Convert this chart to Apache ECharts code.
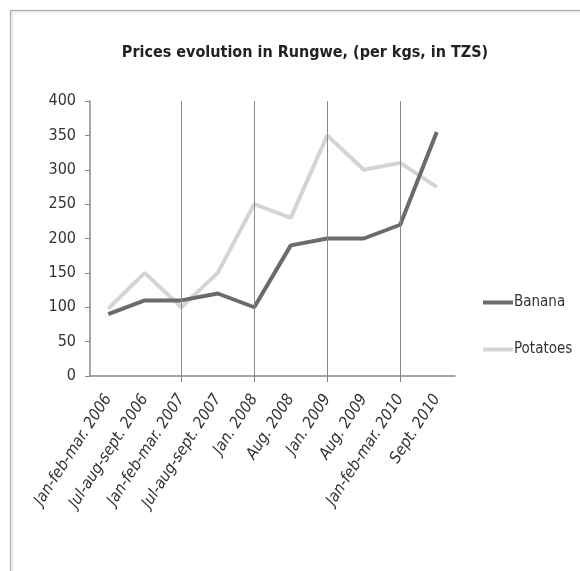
<!DOCTYPE html>
<html>
<head>
<meta charset="utf-8">
<script src="https://cdn.jsdelivr.net/npm/echarts@6/dist/echarts.min.js"></script>
<style>
  html,body{margin:0;padding:0;background:#fff;}
  #main{width:580px;height:571px;}
</style>
</head>
<body>
<div id="main"></div>
<script>
// 数据
var periods = ['Jan-feb-mar. 2006', 'Jul-aug-sept. 2006', 'Jan-feb-mar. 2007', 'Jul-aug-sept. 2007',
  'Jan. 2008', 'Aug. 2008', 'Jan. 2009', 'Aug. 2009', 'Jan-feb-mar. 2010', 'Sept. 2010'];
var banana = [90, 110, 110, 120, 100, 190, 200, 200, 220, 355];
var potatoes = [98, 150, 100, 150, 250, 230, 350, 300, 310, 275];
var gridIdx = [2, 4, 6, 8];

var font = '"DejaVu Sans Condensed", "Liberation Sans Narrow", sans-serif';
var myChart = echarts.init(document.getElementById('main'));
var option = {
  animation: false,
  backgroundColor: '#fff',
  graphic: [{
    type: 'rect',
    shape: { x: 10.5, y: 10.5, width: 620, height: 620 },
    style: { fill: 'none', stroke: '#aaa', lineWidth: 1, shadowBlur: 3, shadowColor: 'rgba(0,0,0,0.3)', shadowOffsetX: 1, shadowOffsetY: 1 },
    silent: true
  }],
  title: {
    text: 'Prices evolution in Rungwe, (per kgs, in TZS)',
    left: 300,
    textAlign: 'center',
    top: 40,
    textStyle: { fontFamily: font, fontSize: 16, fontWeight: 'bold', color: '#222' }
  },
  legend: {
    orient: 'vertical',
    left: 478,
    top: 290,
    itemGap: 32,
    itemWidth: 30,
    itemHeight: 4,
    data: [
      { name: 'Banana', icon: 'rect' },
      { name: 'Potatoes', icon: 'rect' }
    ],
    textStyle: { fontFamily: font, fontSize: 15, color: '#333', padding: [0, 0, 0, -4] }
  },
  grid: { left: 90, right: 125, top: 101, bottom: 195 },
  xAxis: {
    type: 'category',
    data: periods,
    boundaryGap: true,
    axisLine: { lineStyle: { color: '#888', width: 1.5 } },
    axisTick: {
      show: true,
      alignWithLabel: true,
      length: 6,
      interval: function (i) { return gridIdx.indexOf(i) >= 0; },
      lineStyle: { color: '#888' }
    },
    axisLabel: {
      interval: 0,
      rotate: 57,
      margin: 20,
      fontFamily: font,
      fontStyle: 'italic',
      fontSize: 16,
      color: '#333'
    },
    splitLine: { show: false }
  },
  yAxis: {
    type: 'value',
    min: 0,
    max: 400,
    interval: 50,
    axisLine: { show: true, lineStyle: { color: '#888', width: 1.5 } },
    axisTick: { show: true, length: 5, lineStyle: { color: '#888' } },
    axisLabel: { fontFamily: font, fontSize: 16, color: '#333', margin: 14 },
    splitLine: { show: false }
  },
  series: [
    {
      name: 'Banana',
      type: 'line',
      data: banana,
      symbol: 'none',
      color: '#6b6b6b',
      lineStyle: { width: 4, color: '#6b6b6b' },
      z: 3,
      markLine: {
        silent: true,
        symbol: ['none', 'none'],
        label: { show: false },
        lineStyle: { type: 'solid', color: '#888', width: 1 },
        data: gridIdx.map(function (i) { return { xAxis: i }; })
      }
    },
    {
      name: 'Potatoes',
      type: 'line',
      data: potatoes,
      symbol: 'none',
      color: '#d4d4d4',
      lineStyle: { width: 4, color: '#d4d4d4' },
      z: 2
    }
  ]
};
myChart.setOption(option);
window.addEventListener('resize', function () {
  myChart.resize();
});
</script>
</body>
</html>
